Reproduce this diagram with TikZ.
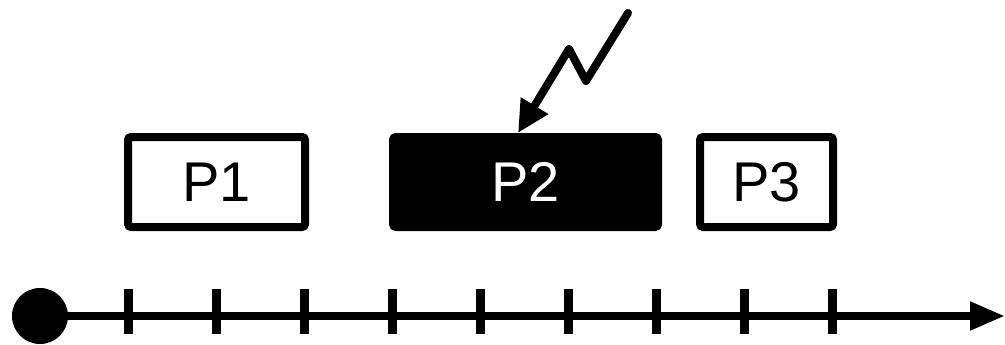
\documentclass[tikz,border=0pt]{standalone}
\usepackage{fontspec}
\setmainfont{Liberation Sans}
\usetikzlibrary{arrows.meta}
\begin{document}
\begin{tikzpicture}[x=1pt,y=-1pt,
  proc/.style={draw=black, line width=8pt, rounded corners=3pt, inner sep=0pt,
    minimum height=90pt, font=\fontsize{56}{60}\selectfont},
  busy/.style={proc, fill=black, text=white},
  idle/.style={proc, fill=white, text=black},
  tick/.style={line width=9pt},
  axis/.style={line width=8pt, -{Triangle[length=35pt,width=27pt]}},
  bolt/.style={line width=8pt, line cap=round, line join=round, -{Triangle[length=32pt,width=30pt]}}]
\useasboundingbox (0,0) rectangle (1005,345);
% processes
\node[idle, minimum width=177pt] (P1) at (216.5,182) {P1};
\node[busy, minimum width=265pt] (P2) at (525.5,182) {P2};
\node[idle, minimum width=133pt] (P3) at (766.5,182) {P3};
% interrupt
\coordinate (boltTop) at (628,13);
\coordinate (boltA) at (586,81);
\coordinate (boltB) at (569,49);
\coordinate (hit) at (518,133);
\draw[bolt] (boltTop) -- (boltA) -- (boltB) -- (hit);
% time axis
\node[circle, fill=black, minimum size=56pt, inner sep=0pt] (origin) at (40,316) {};
\coordinate (axisEnd) at (1005,316);
\foreach \x in {128,216,...,832}
  \draw[tick] (\x,289) -- (\x,334);
\draw[axis] (origin.center) -- (axisEnd);
\end{tikzpicture}
\end{document}
